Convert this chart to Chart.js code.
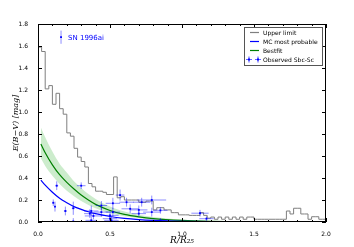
<!DOCTYPE html>
<html><head><meta charset="utf-8">
<script src="https://cdn.jsdelivr.net/npm/chart.js@4/dist/chart.umd.min.js"></script>
<style>html,body{margin:0;padding:0;background:#fff}#c{display:block}</style>
</head><body>
<canvas id="c" width="354" height="247"></canvas>
<script>
// ---- data ----
const binWidth = 0.025;
const upperLimit = [
  1.59,1.55,1.21,1.24,1.07,1.17,1.03,0.98,0.81,0.78,
  0.67,0.59,0.55,0.50,0.35,0.32,0.28,0.28,0.27,0.25,
  0.25,0.41,0.22,0.23,0.20,0.20,0.20,0.20,0.18,0.18,
  0.19,0.19,0.11,0.13,0.13,0.11,0.11,0.085,0.085,0.065,
  0.065,0.065,0.06,0.06,0.06,0.085,0.06,0.035,0.045,0.025,
  0.045,0.025,0.045,0.025,0.045,0.025,0.045,0.025,0.045,0.045,
  0.025,0.025,0.025,0.025,0.025,0.025,0.025,0.025,0.025,0.10,
  0.073,0.125,0.125,0.073,0.073,0.025,0.048,0.048,0.025,0.025
];
const curveX        = [0.02,0.05,0.10,0.15,0.20,0.25,0.30,0.35,0.40,0.50,0.60,0.70,0.80,1.00,1.20,1.50,2.00];
const mcMostProbable= [0.38,0.335,0.27,0.215,0.175,0.14,0.115,0.093,0.076,0.05,0.033,0.022,0.015,0.007,0.003,0.001,0.0];
const bestFit       = [0.71,0.63,0.52,0.43,0.36,0.30,0.245,0.20,0.16,0.105,0.07,0.047,0.031,0.014,0.006,0.002,0.0];
const bestFitHigh   = [0.86,0.77,0.64,0.53,0.45,0.37,0.31,0.255,0.21,0.14,0.095,0.065,0.045,0.02,0.009,0.003,0.0];
const bestFitLow    = [0.58,0.51,0.42,0.345,0.285,0.235,0.19,0.155,0.125,0.08,0.052,0.035,0.023,0.01,0.004,0.0015,0.0];

const obsX    = [0.106,0.118,0.13,0.19,0.245,0.245,0.30,0.36,0.37,0.37,0.385,0.44,0.44,0.50,0.51,0.52,0.52,0.57,0.615,0.64,0.70,0.70,0.72,0.79,0.79,0.85,0.85,1.125,1.17,0.50];
const obsY    = [0.175,0.14,0.33,0.10,0.125,0.005,0.33,0.076,0.10,0.015,0.055,0.15,0.09,0.06,0.015,0.17,0.09,0.245,0.18,0.12,0.11,0.076,0.18,0.20,0.09,0.106,0.015,0.08,0.03,0.03];
const obsXErr = [0.005,0.005,0.01,0.01,0.01,0.01,0.03,0.04,0.05,0.04,0.06,0.04,0.05,0.06,0.05,0.05,0.05,0.03,0.05,0.06,0.06,0.05,0.06,0.10,0.06,0.05,0.05,0.06,0.05,0.05];
const obsYErr = [0.03,0.045,0.04,0.04,0.06,0.03,0.03,0.04,0.05,0.03,0.03,0.04,0.04,0.04,0.03,0.05,0.04,0.05,0.04,0.04,0.04,0.03,0.04,0.04,0.04,0.03,0.02,0.03,0.02,0.03];

const snX = [0.16], snY = [1.68], snYErr = [0.06];
const snLabel = 'SN 1996ai';

const xTickValues = [0,0.5,1.0,1.5,2.0];
const yTickValues = [0,0.2,0.4,0.6,0.8,1.0,1.2,1.4,1.6,1.8];
const legendLabels = ['Upper limit','MC most probable','Bestfit','Observed Sbc-Sc'];

// ---- build datasets ----
const histPts = upperLimit.map((v,i)=>({x:i*binWidth,y:v}));
histPts.push({x:upperLimit.length*binWidth,y:upperLimit[upperLimit.length-1]});
const toPts = arr => arr.map((v,i)=>({x:curveX[i],y:v}));
const obsPts = obsX.map((x,i)=>({x:x,y:obsY[i],xe:obsXErr[i],ye:obsYErr[i]}));
const snPts = snX.map((x,i)=>({x:x,y:snY[i],xe:0,ye:snYErr[i]}));

const BLUE='#0000ff', GREEN='#008000', GRAY='#7f7f7f';

const errPlugin = {
  id:'errbars',
  afterDatasetsDraw(chart){
    const ctx=chart.ctx, xs=chart.scales.x, ys=chart.scales.y;
    ctx.save();
    ctx.beginPath();
    ctx.rect(chart.chartArea.left,chart.chartArea.top,chart.chartArea.right-chart.chartArea.left,chart.chartArea.bottom-chart.chartArea.top);
    ctx.clip();
    chart.data.datasets.forEach((ds,di)=>{
      if(!ds.errorBars) return;
      ds.data.forEach(p=>{
        const px=xs.getPixelForValue(p.x), py=ys.getPixelForValue(p.y);
        ctx.strokeStyle='rgba(0,0,255,0.45)'; ctx.lineWidth=1;
        ctx.beginPath();
        if(p.xe>0){
          const x1=xs.getPixelForValue(p.x-p.xe), x2=xs.getPixelForValue(p.x+p.xe);
          ctx.moveTo(x1,py); ctx.lineTo(x2,py);
        }
        if(p.ye>0){
          const y1=ys.getPixelForValue(p.y-p.ye), y2=ys.getPixelForValue(p.y+p.ye);
          ctx.moveTo(px,y1); ctx.lineTo(px,y2);
        }
        ctx.stroke();
      });
    });
    ctx.restore();
    const p = snPts[0];
    ctx.save();
    ctx.fillStyle=BLUE; ctx.font='7px "DejaVu Sans"'; ctx.textBaseline='middle';
    ctx.fillText(snLabel, xs.getPixelForValue(p.x)+7, ys.getPixelForValue(p.y)+0.5);
    ctx.restore();
  }
};

const framePlugin = {
  id:'frame',
  afterDraw(chart){
    const ctx=chart.ctx, a=chart.chartArea, xs=chart.scales.x, ys=chart.scales.y;
    ctx.save();
    ctx.strokeStyle='#000'; ctx.lineWidth=1;
    ctx.strokeRect(a.left+0.5,a.top+0.5,a.right-a.left-1,a.bottom-a.top-1);
    ctx.beginPath();
    for(let v=0; v<=2.0001; v+=0.1){
      const px=Math.round(xs.getPixelForValue(v))+0.5;
      const major = Math.abs(v/0.5-Math.round(v/0.5))<1e-6;
      const L = major?4:2;
      ctx.moveTo(px,a.bottom); ctx.lineTo(px,a.bottom-L);
      ctx.moveTo(px,a.top); ctx.lineTo(px,a.top+L);
    }
    yTickValues.forEach(v=>{
      const py=Math.round(ys.getPixelForValue(v))+0.5;
      ctx.moveTo(a.left,py); ctx.lineTo(a.left+4,py);
      ctx.moveTo(a.right,py); ctx.lineTo(a.right-4,py);
    });
    ctx.stroke();
    // legend
    const lx=a.right-82, ly=a.top+3, lw=78, lh=38;
    ctx.fillStyle='#fff'; ctx.fillRect(lx,ly,lw,lh);
    ctx.strokeStyle='#555'; ctx.lineWidth=1; ctx.strokeRect(lx+0.5,ly+0.5,lw,lh);
    const cols=[GRAY,BLUE,GREEN,BLUE];
    ctx.font='6px "DejaVu Sans"'; ctx.textBaseline='middle'; ctx.fillStyle='#000';
    legendLabels.forEach((t,i)=>{
      const yy=ly+5.5+i*9;
      ctx.strokeStyle=cols[i]; ctx.lineWidth=1.2;
      ctx.beginPath();
      if(i<3){ ctx.moveTo(lx+6,yy); ctx.lineTo(lx+15,yy); ctx.stroke(); }
      else {
        ctx.strokeStyle='rgba(0,0,255,0.6)';
        [lx+5,lx+14].forEach(cx=>{ctx.moveTo(cx-3,yy);ctx.lineTo(cx+3,yy);ctx.moveTo(cx,yy-3);ctx.lineTo(cx,yy+3);});
        ctx.stroke();
        ctx.fillStyle=BLUE; ctx.fillRect(lx+4,yy-1,2,2); ctx.fillRect(lx+13,yy-1,2,2);
      }
      ctx.fillStyle='#000';
      ctx.fillText(t,lx+19,yy+0.5);
    });
    ctx.restore();
  }
};

new Chart(document.getElementById('c'),{
  data:{datasets:[
    {type:'line',label:'Upper limit',data:histPts,stepped:'before',borderColor:GRAY,borderWidth:1,pointRadius:0,fill:false,order:5},
    {type:'line',label:'bandHigh',data:toPts(bestFitHigh),borderWidth:0,borderColor:'rgba(0,0,0,0)',pointRadius:0,cubicInterpolationMode:'monotone',fill:'+1',backgroundColor:'rgba(0,160,0,0.2)',order:4},
    {type:'line',label:'bandLow',data:toPts(bestFitLow),borderWidth:0,borderColor:'rgba(0,0,0,0)',pointRadius:0,cubicInterpolationMode:'monotone',fill:false,order:4},
    {type:'line',label:'Bestfit',data:toPts(bestFit),borderColor:GREEN,borderWidth:1.2,pointRadius:0,cubicInterpolationMode:'monotone',fill:false,order:3},
    {type:'line',label:'MC most probable',data:toPts(mcMostProbable),borderColor:BLUE,borderWidth:1.2,pointRadius:0,cubicInterpolationMode:'monotone',fill:false,order:2},
    {type:'scatter',label:'Observed Sbc-Sc',data:obsPts,errorBars:true,pointStyle:'rect',pointRadius:1.3,backgroundColor:BLUE,borderColor:BLUE,borderWidth:0,order:1},
    {type:'scatter',label:'SN',data:snPts,errorBars:true,pointStyle:'rect',pointRadius:1.3,backgroundColor:BLUE,borderColor:BLUE,borderWidth:0,order:1}
  ]},
  options:{
    responsive:false,animation:false,devicePixelRatio:1,
    layout:{padding:{left:0,right:28,top:24,bottom:0}},
    plugins:{legend:{display:false},tooltip:{enabled:false}},
    scales:{
      x:{type:'linear',min:0,max:2,
        afterFit(s){s.height=25;},
        afterBuildTicks(s){s.ticks=xTickValues.map(v=>({value:v}));},
        grid:{display:false},border:{display:false},
        ticks:{padding:1,color:'#000',font:{family:'DejaVu Sans',size:6},callback:v=>v.toFixed(1),maxRotation:0},
        title:{display:true,text:'R/R₂₅',color:'#000',font:{family:'DejaVu Serif',style:'italic',size:9},padding:{top:0,bottom:1}}
      },
      y:{type:'linear',min:0,max:1.8,
        afterFit(s){s.width=38;},
        afterBuildTicks(s){s.ticks=yTickValues.map(v=>({value:v}));},
        grid:{display:false},border:{display:false},
        ticks:{padding:2,color:'#000',font:{family:'DejaVu Sans',size:6},callback:v=>v.toFixed(1)},
        title:{display:true,text:'E(B−V) [mag]',color:'#000',font:{family:'DejaVu Serif',style:'italic',size:8},padding:{top:11,bottom:4}}
      }
    }
  },
  plugins:[errPlugin,framePlugin]
});
</script>
</body></html>
